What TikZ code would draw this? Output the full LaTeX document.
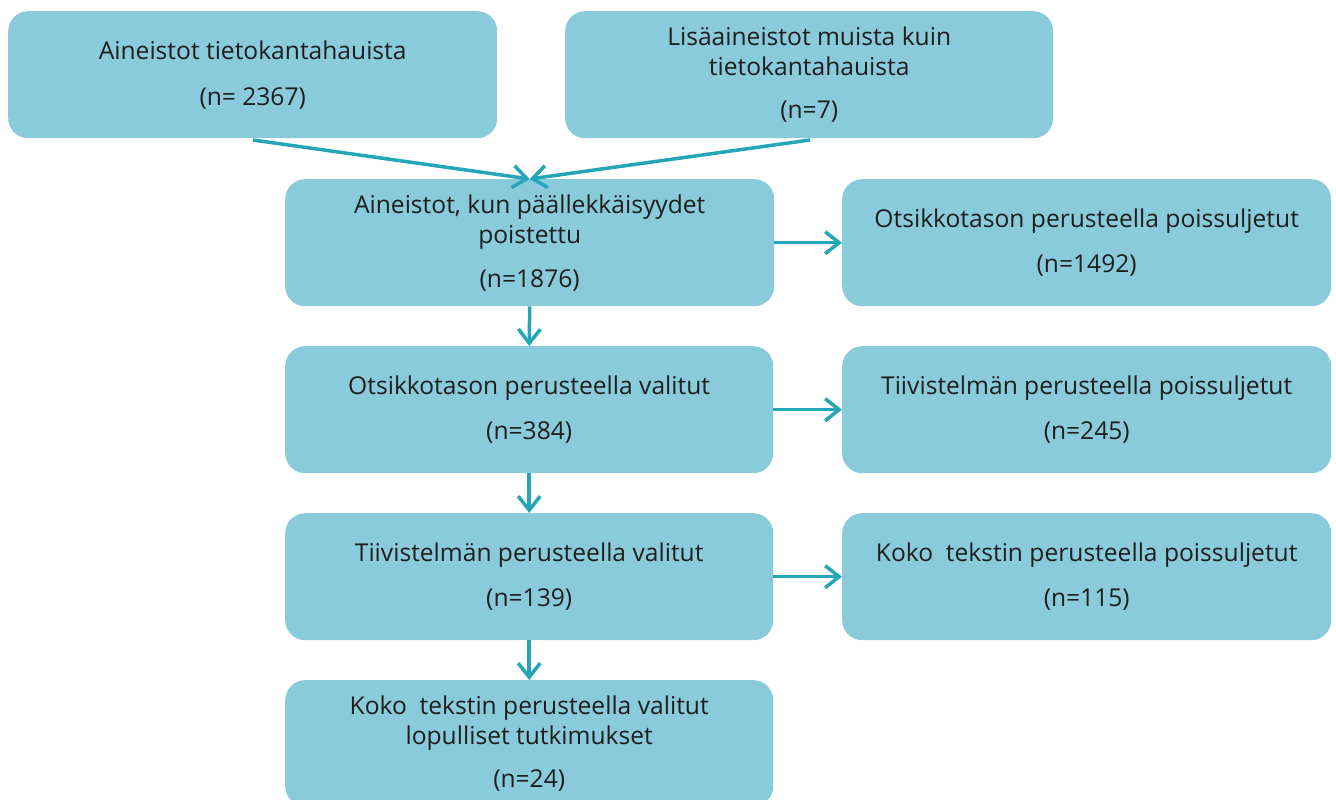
\documentclass[tikz,border=0pt]{standalone}
\usepackage{fontspec}
\setmainfont{Open Sans}
\usetikzlibrary{arrows.meta}
\definecolor{boxfill}{HTML}{89CBDB}
\definecolor{arrowc}{HTML}{25A6B8}
\definecolor{txt}{HTML}{1E1E1E}
\begin{document}
\begin{tikzpicture}[x=1pt,y=-1pt,
  box/.style={fill=boxfill, rounded corners=20pt, minimum width=489pt,
    minimum height=127pt, inner sep=0pt, align=center, text=txt,
    font=\fontsize{24.6}{30}\selectfont, anchor=north west},
  conn/.style={draw=arrowc, line width=3.5pt,
    -{Straight Barb[length=14pt,width=22pt,line width=3.5pt]}}]
\useasboundingbox (0,0) rectangle (1336,800);
\clip (0,0) rectangle (1336,800);
\fill[white] (0,0) rectangle (1336,800);

\node[box] (A) at (8,11) {Aineistot tietokantahauista\\[16pt](n= 2367)};
\node[box, minimum width=488pt] (B) at (565,11) {Lisäaineistot muista kuin\\tietokantahauista\\[13pt](n=7)};
\node[box] (C) at (285,179) {Aineistot, kun päällekkäisyydet\\poistettu\\[14pt](n=1876)};
\node[box] (D) at (842,179) {Otsikkotason perusteella poissuljetut\\[15pt](n=1492)};
\node[box, minimum width=488pt] (E) at (285,346) {Otsikkotason perusteella valitut\\[15pt](n=384)};
\node[box] (F) at (842,346) {Tiivistelmän perusteella poissuljetut\\[15pt](n=245)};
\node[box, minimum width=488pt] (G) at (285,513) {Tiivistelmän perusteella valitut\\[15pt](n=139)};
\node[box] (H) at (842,513) {Koko\ \ tekstin perusteella poissuljetut\\[15pt](n=115)};
\node[box, minimum width=488pt, minimum height=126pt] (I) at (285,680) {Koko\ \ tekstin perusteella valitut\\lopulliset tutkimukset\\[13pt](n=24)};

\coordinate (a1) at (253,140);
\coordinate (b1) at (810,140);
\draw[conn] (a1) -- (C.north);
\draw[conn] (b1) -- (C.north);
\draw[conn] (C.south) -- (E.north);
\draw[conn] (E.south) -- (G.north);
\draw[conn] (G.south) -- (I.north);
\draw[conn] (C.east) -- (D.west);
\draw[conn] (E.east) -- (F.west);
\draw[conn] (G.east) -- (H.west);
\end{tikzpicture}
\end{document}
